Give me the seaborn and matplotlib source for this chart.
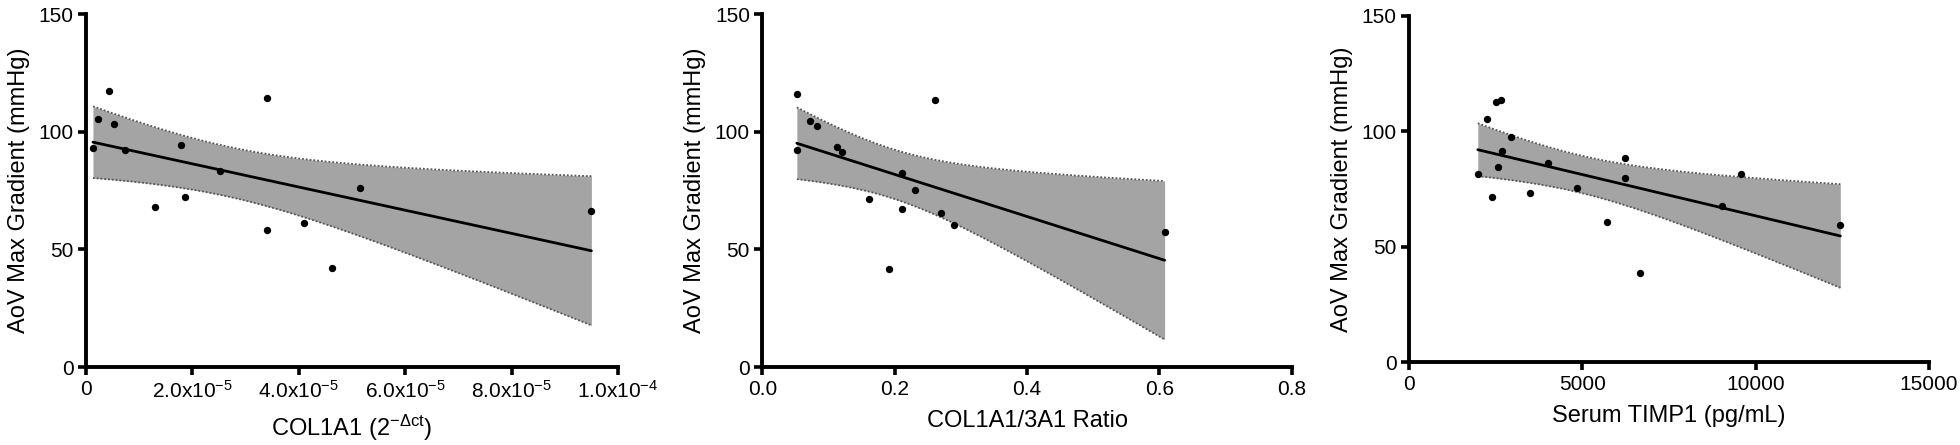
import math
import numpy as np
import pandas as pd
import matplotlib
matplotlib.use("Agg")
import matplotlib.pyplot as plt
from matplotlib.ticker import FuncFormatter
import seaborn as sns

# panel 1: COL1A1 (2^-dct) vs AoV max gradient
col1a1 = [0.13e-5, 0.22e-5, 0.43e-5, 0.52e-5, 0.74e-5, 1.29e-5, 1.78e-5, 1.86e-5,
          2.51e-5, 3.40e-5, 3.40e-5, 4.09e-5, 4.62e-5, 5.15e-5, 9.50e-5]
grad1 = [93.3, 105.4, 117.4, 103.4, 92.2, 68.1, 94.5, 72.3,
         83.4, 114.6, 58.2, 61.3, 42.0, 76.3, 66.2]

# panel 2: COL1A1/3A1 ratio
ratio = [0.052, 0.052, 0.072, 0.082, 0.112, 0.121, 0.161, 0.191,
         0.211, 0.211, 0.231, 0.261, 0.270, 0.290, 0.608]
grad2 = [116.3, 92.4, 104.5, 102.4, 93.6, 91.5, 71.4, 41.5,
         82.5, 67.4, 75.4, 113.4, 65.4, 60.5, 57.3]

# panel 3: serum TIMP1
timp1 = [1980, 2247, 2381, 2520, 2640, 2575, 2684, 2952, 3498, 4020,
         4834, 5697, 6219, 6243, 6668, 9037, 9584, 12450]
grad3 = [81.4, 105.3, 71.5, 112.5, 113.4, 84.4, 91.5, 97.3, 73.4, 86.4,
         75.4, 60.5, 79.8, 88.3, 38.6, 67.5, 81.4, 59.5]

ylabel = "AoV Max Gradient (mmHg)"
xlabels = [r"COL1A1 (2$^{\mathregular{-\Delta ct}}$)", "COL1A1/3A1 Ratio", "Serum TIMP1 (pg/mL)"]
yticks = [0, 50, 100, 150]
xticks_list = [[0, 2e-5, 4e-5, 6e-5, 8e-5, 1e-4],
               [0.0, 0.2, 0.4, 0.6, 0.8],
               [0, 5000, 10000, 15000]]

sns.set_style("ticks", {"axes.edgecolor": "black", "xtick.color": "black",
                        "ytick.color": "black", "text.color": "black",
                        "axes.labelcolor": "black"})
plt.rcParams['font.family'] = ['Liberation Sans', 'DejaVu Sans']
plt.rcParams['mathtext.fontset'] = 'custom'
plt.rcParams['mathtext.rm'] = 'Liberation Sans'
plt.rcParams['mathtext.it'] = 'Liberation Sans'
plt.rcParams['mathtext.sf'] = 'Liberation Sans'
plt.rcParams['axes.unicode_minus'] = False


def t_crit(df, q=0.975):
    # student t quantile by bisection on a numerically integrated cdf
    c = math.gamma((df + 1) / 2) / (math.sqrt(df * math.pi) * math.gamma(df / 2))
    def cdf(t):
        g = np.linspace(0, t, 4001)
        pdf = c * (1 + g ** 2 / df) ** (-(df + 1) / 2)
        return 0.5 + np.trapezoid(pdf, g)
    lo, hi = 0.0, 10.0
    for _ in range(60):
        mid = (lo + hi) / 2
        if cdf(mid) < q:
            lo = mid
        else:
            hi = mid
    return (lo + hi) / 2


def conf_band(xs, ys, grid):
    x = np.asarray(xs, float)
    y = np.asarray(ys, float)
    n = len(x)
    b, a = np.polyfit(x, y, 1)
    resid = y - (a + b * x)
    s = np.sqrt(np.sum(resid ** 2) / (n - 2))
    sxx = np.sum((x - x.mean()) ** 2)
    se = s * np.sqrt(1 / n + (grid - x.mean()) ** 2 / sxx)
    t = t_crit(n - 2)
    fit = a + b * grid
    return fit - t * se, fit + t * se


def sci_fmt(v, pos):
    if v == 0:
        return "0"
    m, e = "{:.1e}".format(v).split("e")
    return r"%s$\mathregular{x10^{%d}}$" % (m, int(e))


fig = plt.figure(figsize=(19.6, 4.45), dpi=100)
boxes = [[0.0439, 0.175, 0.2714, 0.793],
         [0.389, 0.175, 0.270, 0.793],
         [0.719, 0.1865, 0.265, 0.778]]
datasets = [(col1a1, grad1), (ratio, grad2), (timp1, grad3)]
fmts = [FuncFormatter(sci_fmt),
        FuncFormatter(lambda v, p: "%.1f" % v),
        FuncFormatter(lambda v, p: "%d" % v)]

for i, (xs, ys) in enumerate(datasets):
    ax = fig.add_axes(boxes[i])
    df = pd.DataFrame({"x": xs, "y": ys})
    sns.regplot(data=df, x="x", y="y", ax=ax, ci=None,
                color="black",
                scatter_kws={"s": 28, "zorder": 4, "linewidths": 0, "alpha": 1},
                line_kws={"lw": 2.0, "zorder": 3})

    grid = np.linspace(min(xs), max(xs), 200)
    lower, upper = conf_band(xs, ys, grid)
    ax.fill_between(grid, lower, upper, color="#a4a4a4", lw=0, zorder=1)
    for edge in (lower, upper):
        ax.plot(grid, edge, color="#555555", lw=1.3, ls=(0, (1, 1.1)), zorder=2)

    xt = xticks_list[i]
    ax.set_xlim(xt[0], xt[-1])
    ax.set_ylim(0, 150)
    ax.set_xticks(xt)
    ax.set_yticks(yticks)
    ax.xaxis.set_major_formatter(fmts[i])
    ax.set_xlabel(xlabels[i], fontsize=17, labelpad=8)
    ax.set_ylabel(ylabel, fontsize=17, labelpad=6)
    ax.tick_params(labelsize=15, width=2.6, length=6, direction="out", pad=3,
                   color="black", labelcolor="black")
    for s in ["left", "bottom"]:
        ax.spines[s].set_linewidth(2.8)
        ax.spines[s].set_color("black")
    sns.despine(ax=ax)

fig.savefig("out.png", dpi=100)
